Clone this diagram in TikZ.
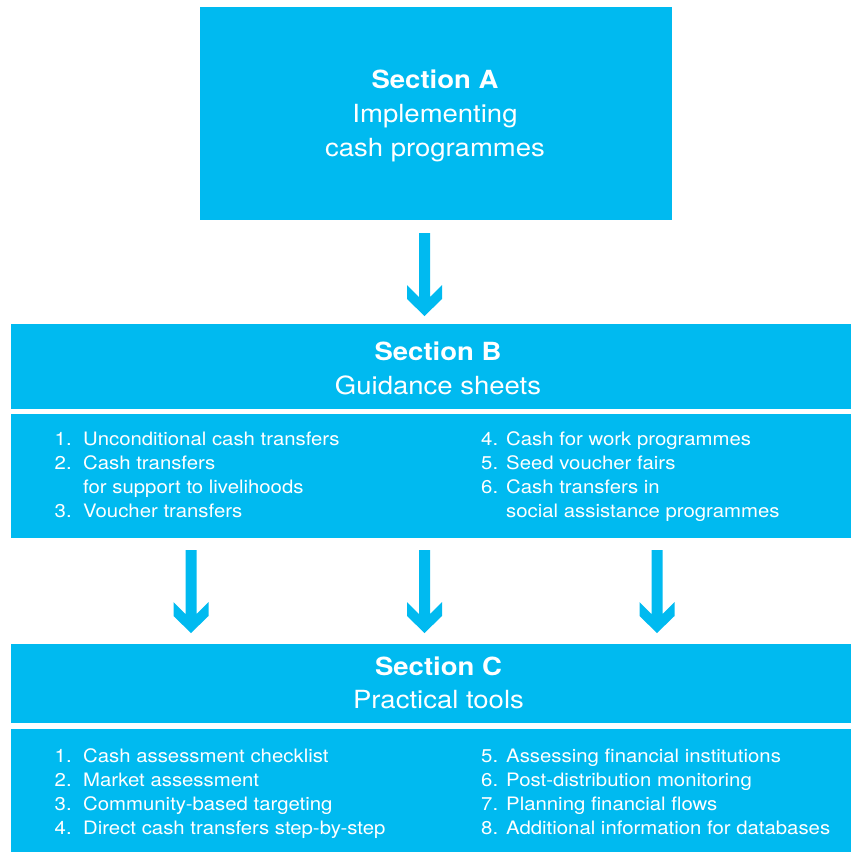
\documentclass[tikz,border=0pt]{standalone}
\usepackage{fontspec}
\setmainfont{TeX Gyre Heros}[FakeStretch=1.1]
\definecolor{cyanbox}{RGB}{0,186,240}
\tikzset{
  box/.style={fill=cyanbox, draw=none, inner sep=0pt, outer sep=0pt, anchor=north west},
  headtxt/.style={text=white, font=\fontsize{25}{34}\selectfont, anchor=base, inner sep=0pt},
  headbold/.style={headtxt, font=\fontsize{25}{34}\selectfont\bfseries},
  itemtxt/.style={text=white, font=\fontsize{18.5}{24}\selectfont, anchor=base west, inner sep=0pt},
  pics/downarrow/.style={code={
    \fill[cyanbox] (-5.5,0) -- (-5.5,64) -- (-17.5,52) -- (-17.5,66) -- (0,83)
      -- (17.5,66) -- (17.5,52) -- (5.5,64) -- (5.5,0) -- cycle;}}
}
\begin{document}
\begin{tikzpicture}[x=1pt,y=-1pt]
\useasboundingbox (0,0) rectangle (851,852);
% boxes
\node[box, minimum width=472pt, minimum height=213pt] (A) at (200,7) {};
\node[box, minimum width=840pt, minimum height=85pt] (Bh) at (11,324) {};
\node[box, minimum width=840pt, minimum height=124pt] (Bb) at (11,414) {};
\node[box, minimum width=840pt, minimum height=79pt] (Ch) at (11,644) {};
\node[box, minimum width=840pt, minimum height=123pt] (Cb) at (11,729) {};
% arrows
\pic at (424.5,233) {downarrow};
\pic at (191,550) {downarrow};
\pic at (424.5,550) {downarrow};
\pic at (657,550) {downarrow};
% Section A
\node[headbold] (a1) at (435,88) {Section A};
\node[headtxt] (a2) at (435,122) {Implementing};
\node[headtxt] (a3) at (435,156) {cash programmes};
% Section B
\node[headbold] (b1) at (438,360) {Section B};
\node[headtxt] (b2) at (438,394) {Guidance sheets};
\node[itemtxt] (bn1) at (54.5,445) {1.};
\node[itemtxt] (bt1) at (83,445) {Unconditional cash transfers};
\node[itemtxt] (bn2) at (54.5,469) {2.};
\node[itemtxt] (bt2) at (83,469) {Cash transfers};
\node[itemtxt] (bt2b) at (83,493) {for support to livelihoods};
\node[itemtxt] (bn3) at (54.5,517) {3.};
\node[itemtxt] (bt3) at (83,517) {Voucher transfers};
\node[itemtxt] (bn4) at (481,445) {4.};
\node[itemtxt] (bt4) at (506,445) {Cash for work programmes};
\node[itemtxt] (bn5) at (481,469) {5.};
\node[itemtxt] (bt5) at (506,469) {Seed voucher fairs};
\node[itemtxt] (bn6) at (481,493) {6.};
\node[itemtxt] (bt6) at (506,493) {Cash transfers in};
\node[itemtxt] (bt6b) at (506,517) {social assistance programmes};
% Section C
\node[headbold] (c1) at (438.5,675) {Section C};
\node[headtxt] (c2) at (438.5,708) {Practical tools};
\node[itemtxt] (cn1) at (54.5,762) {1.};
\node[itemtxt] (ct1) at (83,762) {Cash assessment checklist};
\node[itemtxt] (cn2) at (54.5,786) {2.};
\node[itemtxt] (ct2) at (83,786) {Market assessment};
\node[itemtxt] (cn3) at (54.5,810) {3.};
\node[itemtxt] (ct3) at (83,810) {Community-based targeting};
\node[itemtxt] (cn4) at (54.5,834) {4.};
\node[itemtxt] (ct4) at (83,834) {Direct cash transfers step-by-step};
\node[itemtxt] (cn5) at (481,762) {5.};
\node[itemtxt] (ct5) at (506,762) {Assessing financial institutions};
\node[itemtxt] (cn6) at (481,786) {6.};
\node[itemtxt] (ct6) at (506,786) {Post-distribution monitoring};
\node[itemtxt] (cn7) at (481,810) {7.};
\node[itemtxt] (ct7) at (506,810) {Planning financial flows};
\node[itemtxt] (cn8) at (481,834) {8.};
\node[itemtxt] (ct8) at (506,834) {Additional information for databases};
\end{tikzpicture}
\end{document}
